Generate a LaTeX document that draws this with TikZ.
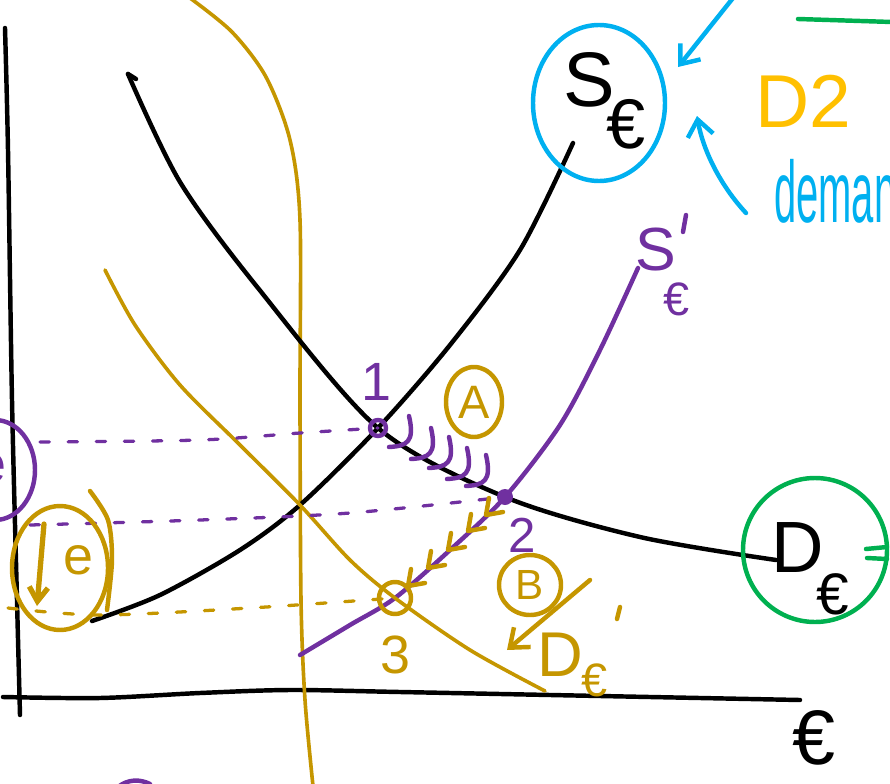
\documentclass[tikz,border=0pt]{standalone}
\usepackage{fontspec}
\setmainfont{Liberation Sans}
\usetikzlibrary{arrows.meta}
\definecolor{fxgold}{RGB}{197,150,0}
\definecolor{fxpurple}{RGB}{112,48,160}
\definecolor{fxblue}{RGB}{0,176,240}
\definecolor{fxgreen}{RGB}{0,176,80}
\definecolor{fxyellow}{RGB}{255,192,0}
\newcommand\handsize[1]{\fontsize{#1}{#1}\selectfont}

\begin{document}
\begin{tikzpicture}[
  x=0.03cm, y=-0.03cm,
  line cap=round, line join=round,
  pen/.style={line width=3.8pt},
  thinpen/.style={line width=3.1pt},
  dashline/.style={line width=2.8pt, dash pattern=on 8pt off 16pt},
  txt/.style={inner sep=0pt},
  barb/.style={-{Straight Barb[length=14pt,width=22pt]}}
]
\useasboundingbox (0,0) rectangle (890,784);

% axes
\draw[pen] plot[smooth] coordinates {(5,28) (8,150) (12,400) (17,600) (20,715)};
\draw[pen] plot[smooth] coordinates {(3,697) (100,698) (200,693) (290,690) (400,692) (600,696) (800,700)};
\node[txt, font=\handsize{66}] (axisE) at (814,738) {€};

% equilibrium points
\coordinate (e1) at (378,428);
\coordinate (e2) at (505,497);
\coordinate (e3) at (395,598);

% gold vertical curve
\draw[thinpen, fxgold] plot[smooth] coordinates {(190,-2) (232,32) (266,77) (290,140) (300,220) (300,400) (301,600) (305,700) (313,786)};

% curves
\draw[pen] plot[smooth] coordinates {(92,621) (160,595) (240,550) (300,505) (e1) (450,345) (520,250) (573,143)};
\draw[pen] plot[smooth] coordinates {(128,74) (180,182) (258,288) (e1) (e2) (640,537) (776,560)};
\draw[pen] (128,74) -- (136,79);
\draw[pen, fxpurple] plot[smooth] coordinates {(300,655) (350,625) (e3) (450,550) (e2) (560,425) (600,350) (638,268)};
\draw[thinpen, fxgold] plot[smooth] coordinates {(105,270) (135,325) (180,385) (240,445) (300,505) (350,560) (e3) (470,650) (545,691)};

% dashed guides
\draw[dashline, fxpurple] plot[smooth] coordinates {(40,442) (200,440) (300,433) (e1)};
\draw[dashline, fxpurple] plot[smooth] coordinates {(30,525) (200,520) (350,513) (e2)};
\draw[dashline, fxgold] plot[smooth] coordinates {(8,608) (100,615) (250,608) (e3)};

% point marks
\draw[pen, fxpurple] (e1) circle [radius=8];
\fill[fxpurple] (e2) circle [radius=8];
\draw[pen, fxgold] (e3) circle [radius=16];
\node[txt, fxpurple, font=\handsize{46}] (lbl1) at (376,382) {1};
\node[txt, fxpurple, font=\handsize{42}] (lbl2) at (522,535) {2};
\node[txt, fxgold, font=\handsize{46}] (lbl3) at (395,655) {3};

% movement marks
\foreach \hx/\hy in {413/442, 435/454, 453/463, 471/474, 490/481}
  \draw[pen, fxpurple] (\hx-4,\hy-26) .. controls (\hx+2,\hy) and (\hx-6,\hy+4) .. (\hx-24,\hy+5);
\foreach \cx/\cy in {408/586, 428/568, 448/550, 468/531, 486/515}
  \draw[pen, fxgold] (\cx+3,\cy-17) -- (\cx,\cy) -- (\cx+17,\cy-3);

% areas A and B
\node[txt, fxgold, font=\handsize{40}] (lblA) at (474,402) {A};
\draw[pen, fxgold] (lblA) ellipse [x radius=28, y radius=35];
\node[txt, fxgold, font=\handsize{36}] (lblB) at (530,585) {B};
\draw[pen, fxgold] (lblB) ellipse [x radius=31, y radius=30];
\coordinate (shiftA) at (590,580);
\coordinate (shiftB) at (507,650);
\draw[pen, fxgold, barb] (shiftA) -- (shiftB);

% curve labels
\node[txt, font=\handsize{66}] (sS) at (589,80) {S};
\node[txt, font=\handsize{60}] (sE) at (626,124) {€};
\draw[pen, fxblue] (599,103) ellipse [x radius=66, y radius=78];
\node[txt, fxpurple, font=\handsize{52}] (spS) at (656,250) {S};
\node[txt, fxpurple, font=\handsize{40}] (spE) at (677,299) {€};
\draw[pen, fxpurple] (686,215) -- (683,232);
\node[txt, fxgold, font=\handsize{54}] (dpD) at (560,655) {D};
\node[txt, fxgold, font=\handsize{40}] (dpE) at (595,680) {€};
\draw[pen, fxgold] (620,607) -- (617,619);
\node[txt, font=\handsize{62}] (dD) at (798,548) {D};
\node[txt, font=\handsize{50}] (dE) at (833,594) {€};
\draw[pen, fxgreen] (815,550) ellipse [x radius=72, y radius=72];
\draw[pen, fxgreen] (866,549) -- (887,547);
\draw[pen, fxgreen] (867,558) -- (887,559);

% notes top right
\coordinate (fromTop) at (733,-2);
\coordinate (tipTop) at (678,67);
\draw[pen, fxblue, barb] (fromTop) -- (tipTop);
\coordinate (fromLow) at (746,213);
\coordinate (tipLow) at (697,116);
\draw[pen, fxblue, barb] (fromLow) .. controls (720,185) and (703,150) .. (tipLow);
\node[txt, fxyellow, font=\handsize{64}] (dtwo) at (803,101) {D2};
\node[txt, fxblue, font=\handsize{62}, anchor=base west] (demand) at (774,222) {\scalebox{0.55}[1.2]{demand}};
\draw[pen, fxgreen] (798,19) -- (892,22);

% exchange rate notes on the left
\draw[pen, fxpurple] (-5,470) ellipse [x radius=40, y radius=50];
\node[txt, fxpurple, font=\handsize{46}] (eLeft) at (-9,468) {e};
\draw[pen, fxgold] (60,568) ellipse [x radius=48, y radius=62];
\draw[pen, fxgold] plot[smooth] coordinates {(90,491) (108,520) (112,560) (107,610)};
\coordinate (downTop) at (44,524);
\coordinate (downTip) at (37,606);
\draw[line width=4.5pt, fxgold, -{Straight Barb[length=12pt,width=16pt]}] (downTop) -- (downTip);
\node[txt, fxgold, font=\handsize{46}] (eGold) at (78,560) {e};

% stray stroke at the bottom
\draw[pen, fxpurple] (118,787) .. controls (128,779) and (140,779) .. (150,784);

\end{tikzpicture}
\end{document}
